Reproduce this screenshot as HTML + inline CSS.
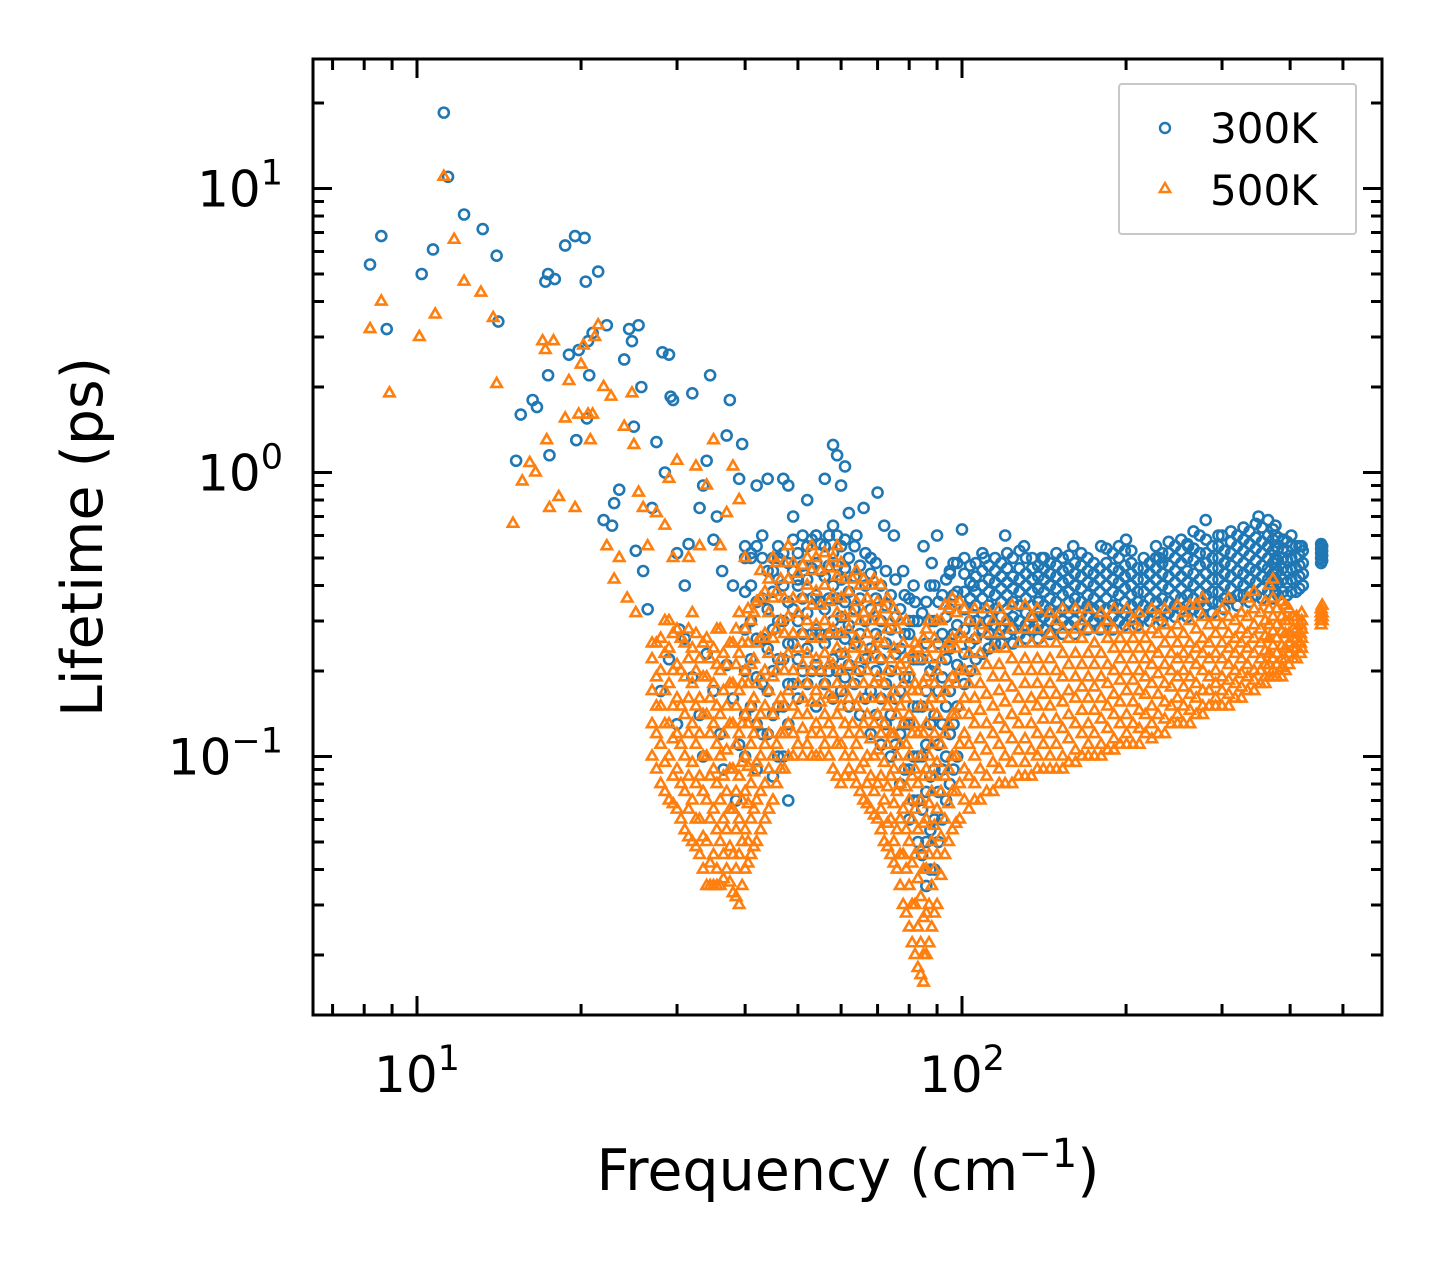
<!DOCTYPE html>
<html><head><meta charset="utf-8"><style>
html,body{margin:0;padding:0;background:#fff;}
svg{display:block;font-family:"DejaVu Sans","Liberation Sans",sans-serif;}
</style></head><body>
<svg id="chart" width="1442" height="1265" viewBox="0 0 1442 1265" xmlns="http://www.w3.org/2000/svg">
<defs><clipPath id="clip"><rect x="313" y="59" width="1069" height="956"/></clipPath></defs>
<rect x="0" y="0" width="1442" height="1265" fill="#fff"/>
<g id="marks300" clip-path="url(#clip)"></g>
<g id="marks500" clip-path="url(#clip)"></g>
<g id="ticks"></g>
<rect x="313" y="59" width="1069" height="956" fill="none" stroke="#000" stroke-width="3"/>
<g id="labels" font-size="50" fill="#000"></g>
<text x="848" y="1190" font-size="57" text-anchor="middle">Frequency (cm<tspan dy="-23" font-size="40">−1</tspan><tspan dy="23">)</tspan></text>
<text transform="translate(102,537) rotate(-90)" font-size="57" text-anchor="middle">Lifetime (ps)</text>
<g>
<rect x="1119" y="84" width="237" height="150" fill="#fff" stroke="#c8c8c8" stroke-width="2" rx="3"/>
<circle cx="1165" cy="128" r="5" fill="none" stroke="#1f77b4" stroke-width="2.4"/>
<text x="1210" y="143" font-size="42">300K</text>
<polygon points="1165,183 1170.2,192 1159.8,192" fill="none" stroke="#ff7f0e" stroke-width="2.4"/>
<text x="1210" y="205" font-size="42">500K</text>
</g>
</svg>
<script>
// ---- data (frequency cm^-1, lifetime ps) ----
const sparse300 = [[8.2,5.4],[8.6,6.8],[8.8,3.2],[10.2,5.0],[10.7,6.1],[11.2,18.5],[11.4,11],[12.2,8.1],[13.2,7.2],[14.0,5.8],[14.1,3.4],[15.2,1.1],[15.5,1.6],[16.3,1.8],[16.6,1.7],[17.2,4.7],[17.4,5.0],[17.4,2.2],[17.5,1.15],[17.9,4.8],[18.7,6.3],[19.0,2.6],[19.5,6.8],[19.6,1.3],[19.8,2.7],[20.3,6.7],[20.4,4.7],[20.6,2.9],[20.7,2.2],[21,3.1],[21.5,5.1],[20.5,1.55],[22.0,0.68],[22.3,3.3],[22.8,0.65],[23.0,0.78],[23.5,0.87],[24,2.5],[24.5,3.2],[24.8,2.9],[25,1.45],[25.2,0.53],[25.5,3.3],[25.8,2.0],[26,0.45],[26.5,0.33],[27,0.75],[27.5,1.28],[28.2,2.65],[28.5,1.0],[29,2.6],[29.2,1.85],[29.5,1.8],[30,0.52],[30.3,0.28],[31,0.4],[31.5,0.56],[32,1.9],[33,0.75],[33.5,0.9],[34,1.1],[34.5,2.2],[35,0.58],[35.5,0.7],[36.3,0.45],[37,1.35],[37.5,1.8],[38,0.4],[39,0.95],[39.5,1.26],[40,0.55],[41,0.5],[42,0.9],[43,0.6],[44,0.95],[45,0.45],[46,0.5],[47,0.95],[48,0.9],[49,0.7],[50,0.42],[52,0.8],[54,0.6],[56,0.95],[58,1.25],[59,1.15],[60,0.9],[61,1.05],[62,0.72],[64,0.6],[66,0.75],[68,0.5],[70,0.85],[72,0.65],[75,0.6],[78,0.45],[80,0.3],[82,0.35],[85,0.55],[88,0.48],[90,0.6],[95,0.45],[100,0.63],[105,0.4],[110,0.5],[120,0.6],[130,0.55],[140,0.5],[160,0.55],[180,0.55],[200,0.58],[230,0.5],[260,0.55],[280,0.68],[300,0.6],[350,0.7],[390,0.58],[420,0.55],[28,0.17],[29,0.22],[30,0.13],[31,0.26],[32,0.19],[33,0.14],[34,0.23],[35,0.17],[36,0.12],[37,0.21],[38,0.16],[39,0.11],[38.5,0.07],[36.5,0.09],[33.5,0.1],[45,0.085],[48,0.07],[47,0.1]];
const band300 = [[40,[.1,.14,.2,.28,.38,.5]],[42,[.09,.13,.19,.26,.35,.55]],[44,[.12,.17,.24,.33,.45]],[46,[.1,.15,.22,.3,.42,.55]],[48,[.13,.18,.25,.35,.48]],[50,[.16,.22,.3,.4,.52]],[52,[.18,.24,.32,.42,.55]],[54,[.15,.21,.28,.37,.48,.6]],[56,[.18,.25,.33,.43,.55]],[58,[.16,.22,.3,.4,.52,.65]],[60,[.17,.23,.31,.42,.55]],[62,[.15,.21,.29,.38,.5]],[65,[.14,.2,.27,.36,.47]],[68,[.12,.17,.24,.33,.44]],[71,[.11,.16,.22,.3,.4]],[74,[.1,.14,.2,.28,.37]],[77,[.08,.12,.17,.24,.33]],[80,[.06,.09,.13,.19,.27,.36]],[83,[.05,.07,.1,.15,.22,.3]],[86,[.035,.05,.075,.11,.17,.25,.35]],[89,[.04,.06,.09,.14,.21,.3,.4]],[92,[.06,.09,.13,.19,.27,.37]],[95,[.08,.12,.17,.24,.33,.44]],[98,[.1,.15,.21,.29,.38,.48]],[101,[.18,.23,.28,.33,.38,.44,.5]],[106,[.22,.26,.3,.34,.38,.43,.48]],[112,[.24,.27,.3,.34,.38,.42,.47]],[118,[.25,.28,.31,.35,.39,.43,.48]],[124,[.25,.28,.31,.35,.39,.43,.5]],[131,[.26,.29,.32,.36,.4,.44,.5]],[138,[.26,.29,.32,.35,.39,.43,.47]],[145,[.27,.3,.33,.36,.4,.44,.48]],[153,[.27,.3,.33,.37,.41,.45,.5]],[161,[.27,.3,.33,.36,.4,.44,.48]],[170,[.28,.31,.34,.37,.41,.45,.5]],[179,[.28,.31,.34,.38,.42,.46]],[189,[.28,.31,.34,.38,.42,.46,.52]],[199,[.29,.32,.35,.39,.43,.47,.53]],[210,[.29,.32,.35,.38,.42,.46]],[221,[.3,.33,.36,.4,.44,.48]],[233,[.3,.33,.36,.4,.44,.48,.52]],[246,[.31,.34,.37,.41,.45,.5,.55]],[259,[.31,.34,.37,.41,.45,.5,.56]],[273,[.32,.35,.38,.42,.47,.52,.6]],[288,[.32,.35,.38,.42,.46,.5,.55]],[303,[.33,.36,.4,.44,.48,.53]],[320,[.34,.37,.41,.45,.5,.55,.6]],[337,[.35,.38,.42,.46,.51,.56,.62]],[355,[.36,.39,.43,.47,.52,.57,.64]],[372,[.36,.4,.44,.48,.53,.58,.63]],[380,[.37,.41,.45,.49,.54,.59]],[395,[.37,.41,.45,.49,.53,.57]],[410,[.38,.42,.46,.5,.55]],[422,[.4,.44,.48,.53]],[456,[.48,.5,.52,.54,.56]],[458,[.49,.51,.53,.55]]];
const band300Extra = [[41,[.15,.22,.3,.4,.52]],[43,[.12,.18,.26,.36,.5]],[45,[.14,.2,.28,.38,.5]],[47,[.15,.22,.3,.4,.52]],[49,[.18,.25,.33,.45,.58]],[51,[.2,.27,.36,.47,.6]],[53,[.2,.27,.36,.46,.58]],[55,[.2,.27,.35,.45,.56]],[57,[.2,.27,.36,.47,.6]],[59,[.2,.27,.36,.47,.6]],[61,[.19,.26,.35,.46,.58]],[63.5,[.18,.25,.33,.43,.55]],[66.5,[.16,.22,.3,.4,.52]],[69.5,[.14,.2,.27,.36,.48]],[72.5,[.13,.18,.25,.34,.45]],[75.5,[.11,.16,.23,.31,.42]],[78.5,[.09,.13,.19,.27,.37]],[81.5,[.07,.1,.15,.22,.3,.4]],[84.5,[.045,.065,.1,.15,.22,.32]],[87.5,[.04,.055,.085,.13,.2,.3,.4]],[90.5,[.05,.075,.11,.17,.25,.35]],[93.5,[.07,.1,.15,.22,.31,.42]],[96.5,[.09,.13,.19,.27,.37,.48]],[103.5,[.2,.25,.3,.36,.41,.47]],[109,[.23,.28,.32,.36,.4,.45,.52]],[115,[.25,.29,.33,.37,.41,.45,.5]],[121,[.27,.3,.33,.37,.41,.46,.52]],[127.5,[.27,.3,.34,.38,.42,.46,.53]],[134.5,[.28,.31,.34,.38,.42,.46,.5]],[141.5,[.28,.31,.34,.38,.42,.46,.5]],[149,[.29,.32,.35,.39,.43,.47,.52]],[157,[.29,.32,.35,.38,.42,.46,.51]],[165.5,[.29,.32,.35,.39,.43,.47,.52]],[174.5,[.3,.33,.36,.4,.44,.48]],[184,[.3,.33,.36,.4,.44,.48,.54]],[194,[.3,.33,.37,.41,.45,.5,.55]],[204.5,[.31,.34,.37,.4,.44,.48,.53]],[215.5,[.31,.34,.38,.42,.46,.5]],[227,[.32,.35,.38,.42,.46,.5,.55]],[239.5,[.32,.35,.39,.43,.47,.52,.57]],[252.5,[.33,.36,.39,.43,.48,.53,.58]],[266,[.33,.36,.4,.44,.49,.54,.62]],[280.5,[.34,.37,.4,.44,.48,.52,.58]],[295.5,[.35,.38,.42,.46,.5,.55,.6]],[311.5,[.36,.39,.43,.47,.52,.57,.62]],[328.5,[.37,.4,.44,.48,.53,.58,.64]],[346,[.37,.41,.45,.49,.54,.59,.66]],[364.5,[.38,.42,.46,.5,.55,.6,.68]],[376,[.38,.42,.46,.5,.55,.6,.65]],[388,[.38,.42,.46,.5,.54,.58]],[402,[.38,.42,.46,.5,.55,.6]],[416,[.39,.43,.47,.51,.55]]];
const sparse500 = [[8.2,3.2],[8.6,4.0],[8.9,1.9],[10.1,3.0],[10.8,3.6],[11.2,11],[11.7,6.6],[12.2,4.7],[13.1,4.3],[13.8,3.5],[14,2.05],[15.0,0.66],[15.6,0.93],[16.1,1.08],[16.5,1.0],[17.0,2.9],[17.2,2.7],[17.3,1.3],[17.5,0.75],[17.8,2.9],[18.2,0.82],[18.7,1.55],[19,2.1],[19.5,0.75],[19.8,1.6],[20,2.4],[20.2,2.8],[20.6,1.6],[20.8,1.3],[21,1.6],[21.2,3.0],[21.5,3.3],[22,2.0],[22.3,0.55],[22.7,1.85],[23,0.42],[23.5,0.5],[24,1.45],[24.3,0.36],[24.8,1.9],[25,1.25],[25.2,0.32],[25.5,0.85],[26,0.75],[26.5,0.55],[27,0.25],[27.5,0.72],[28.5,0.65],[29,0.95],[29.5,0.5],[30,1.1],[31.5,0.5],[32.5,1.05],[33,0.55],[34,0.9],[35,1.3],[36,0.55],[37,0.72],[38,1.05],[39,0.8],[40,0.5]];
const band500 = [[27,[.1,.13,.17,.22]],[28,[.08,.11,.15,.2,.26]],[29,[.07,.1,.13,.18,.24,.3]],[30,[.065,.09,.12,.16,.21,.28]],[31,[.055,.075,.1,.14,.19,.25]],[32,[.05,.07,.095,.13,.18,.24,.32]],[33,[.045,.06,.085,.12,.16,.22]],[34,[.035,.05,.07,.1,.14,.19,.26]],[35,[.035,.045,.065,.09,.13,.18,.24]],[36,[.035,.05,.07,.1,.14,.2,.28]],[37,[.04,.055,.075,.105,.15,.21]],[38,[.033,.045,.065,.09,.13,.18,.25]],[39,[.03,.045,.06,.085,.12,.17,.23,.32]],[40,[.04,.055,.075,.1,.14,.2,.28]],[41,[.045,.06,.08,.11,.15,.21,.3]],[42,[.05,.07,.095,.13,.18,.25,.35]],[43.5,[.06,.08,.11,.15,.2,.27,.38]],[45,[.07,.1,.14,.19,.26,.36,.5]],[46.5,[.09,.12,.16,.22,.3,.42]],[48,[.1,.13,.17,.23,.31,.42,.55]],[50,[.11,.14,.18,.24,.32,.44]],[52,[.11,.14,.18,.23,.3,.4,.5]],[54,[.1,.13,.17,.22,.29,.38,.5]],[56,[.11,.14,.18,.23,.3,.4,.52]],[58,[.09,.12,.16,.21,.28,.37,.5]],[60,[.08,.11,.15,.2,.27,.36,.48]],[62,[.09,.12,.16,.21,.28,.38]],[64,[.08,.11,.15,.2,.26,.35,.45]],[66,[.07,.095,.13,.18,.24,.32,.42]],[68,[.065,.085,.115,.16,.22,.3,.4]],[70,[.06,.08,.105,.14,.19,.26,.35]],[72,[.05,.07,.095,.13,.18,.25,.33]],[74,[.045,.06,.085,.12,.16,.22,.3]],[76,[.04,.055,.075,.1,.14,.2,.28]],[78,[.03,.045,.065,.09,.13,.18,.25]],[80,[.025,.035,.05,.07,.1,.14,.2]],[82,[.02,.03,.045,.065,.09,.13,.18,.25]],[84,[.017,.022,.032,.047,.07,.1,.15,.22]],[86,[.02,.028,.04,.06,.09,.13,.19,.28]],[88,[.025,.035,.05,.075,.11,.16,.24]],[90,[.03,.045,.065,.095,.14,.2,.3]],[93,[.045,.06,.085,.12,.17,.24,.34]],[96,[.055,.075,.1,.14,.19,.26,.36]],[99,[.06,.08,.11,.15,.2,.27,.35]],[103,[.065,.085,.11,.14,.18,.23,.3]],[108,[.07,.09,.115,.145,.18,.23,.29]],[114,[.075,.095,.12,.15,.19,.24,.3]],[120,[.08,.1,.125,.155,.19,.24,.3]],[127,[.085,.105,.13,.16,.2,.25]],[134,[.085,.105,.13,.16,.2,.25,.31]],[141,[.09,.11,.135,.165,.2,.25]],[149,[.09,.11,.135,.165,.2,.25,.3]],[157,[.095,.115,.14,.17,.21,.26]],[166,[.1,.12,.145,.175,.21,.26,.3]],[175,[.1,.12,.145,.175,.21,.25]],[185,[.105,.125,.15,.18,.21,.26,.3]],[195,[.11,.13,.155,.185,.22,.26]],[206,[.11,.13,.155,.185,.22,.26,.3]],[217,[.12,.14,.165,.19,.22,.26]],[229,[.12,.14,.165,.195,.23,.27,.31]],[242,[.13,.15,.175,.2,.23,.27]],[255,[.13,.15,.175,.2,.23,.27,.32]],[269,[.14,.16,.18,.21,.24,.28,.34]],[284,[.15,.17,.19,.22,.25,.29]],[300,[.15,.17,.19,.22,.25,.29,.33]],[317,[.16,.18,.2,.23,.26,.3]],[334,[.17,.19,.21,.24,.27,.31,.36]],[353,[.18,.2,.22,.25,.28,.32]],[366,[.19,.21,.23,.26,.29,.33,.4]],[378,[.19,.21,.23,.26,.29,.33]],[392,[.2,.22,.24,.27,.3,.34]],[405,[.22,.24,.26,.28,.31]],[418,[.23,.25,.27,.29]],[456,[.29,.3,.31,.32,.33]],[458,[.3,.31,.32,.34]]];
const band500Extra = [[27.5,[.09,.12,.15,.19,.25]],[28.5,[.075,.095,.13,.17,.23,.3]],[29.5,[.068,.085,.115,.15,.2,.27]],[30.5,[.06,.08,.11,.15,.2,.26]],[31.5,[.052,.065,.085,.12,.16,.22,.28]],[32.5,[.048,.06,.08,.11,.15,.2,.27]],[33.5,[.04,.052,.075,.1,.14,.19,.25]],[34.5,[.035,.042,.06,.085,.12,.16,.22]],[35.5,[.035,.04,.055,.08,.11,.15,.21,.28]],[36.5,[.037,.045,.06,.085,.12,.17,.23]],[37.5,[.036,.048,.065,.09,.13,.18,.25]],[38.5,[.032,.04,.055,.075,.11,.15,.21,.28]],[39.5,[.035,.05,.07,.095,.13,.18,.25]],[40.5,[.042,.05,.068,.092,.13,.18,.25,.33]],[41.5,[.048,.065,.088,.12,.16,.22,.32]],[42.7,[.055,.075,.1,.14,.19,.26,.36,.45]],[44.2,[.065,.09,.12,.17,.23,.32,.42]],[45.7,[.08,.11,.15,.2,.28,.38,.48]],[47.2,[.09,.12,.15,.2,.27,.36,.48]],[49,[.1,.12,.15,.2,.27,.36,.48]],[51,[.1,.125,.16,.21,.27,.36,.47]],[53,[.1,.12,.155,.2,.26,.34,.45,.55]],[55,[.1,.12,.155,.2,.26,.34,.45]],[57,[.1,.13,.165,.21,.27,.35,.46]],[59,[.085,.11,.14,.18,.24,.32,.43,.55]],[61,[.085,.1,.13,.17,.23,.31,.42]],[63,[.085,.1,.13,.18,.24,.32,.42]],[65,[.075,.09,.12,.16,.22,.3,.4]],[67,[.068,.08,.1,.14,.2,.27,.36]],[69,[.062,.075,.1,.13,.18,.24,.32,.42]],[71,[.055,.065,.085,.12,.16,.22,.3,.4]],[73,[.048,.058,.078,.11,.15,.2,.28,.36]],[75,[.042,.05,.068,.09,.12,.17,.24,.33]],[77,[.035,.045,.06,.08,.11,.15,.21,.3]],[79,[.028,.04,.055,.078,.11,.16,.22,.3]],[81,[.022,.03,.042,.06,.085,.12,.17,.23]],[83,[.018,.025,.037,.055,.08,.12,.17,.24]],[85,[.016,.02,.027,.04,.058,.085,.12,.18,.26]],[87,[.022,.03,.045,.068,.1,.15,.22,.3]],[89,[.028,.04,.057,.085,.12,.18,.26]],[91.5,[.038,.052,.075,.11,.16,.22,.3]],[94.5,[.05,.068,.09,.13,.18,.25,.33]],[97.5,[.058,.075,.1,.14,.18,.24,.32]],[101,[.07,.09,.12,.16,.2,.26,.33]],[105.5,[.07,.08,.1,.13,.16,.2,.26,.33]],[111,[.075,.085,.105,.13,.165,.21,.27,.33]],[117,[.08,.09,.11,.135,.17,.21,.27,.33]],[123.5,[.08,.095,.115,.14,.175,.22,.28,.34]],[130.5,[.085,.095,.115,.145,.18,.22,.28,.34]],[137.5,[.09,.1,.12,.15,.18,.22,.28,.33]],[145,[.09,.1,.12,.15,.18,.22,.27,.32]],[153,[.09,.1,.125,.155,.19,.23,.28,.33]],[161.5,[.095,.105,.13,.16,.19,.23,.28,.33]],[170.5,[.1,.11,.13,.16,.19,.23,.28,.33]],[180,[.1,.11,.135,.16,.19,.23,.28,.32]],[190,[.105,.115,.14,.165,.2,.24,.28,.33]],[200.5,[.11,.12,.14,.17,.2,.24,.28,.33]],[211.5,[.11,.125,.145,.17,.2,.24,.28,.32]],[223,[.115,.13,.15,.18,.21,.24,.28,.33]],[235.5,[.12,.135,.155,.18,.21,.25,.29,.33]],[248.5,[.13,.14,.16,.19,.22,.25,.29,.34]],[262,[.13,.145,.165,.19,.22,.25,.3,.34]],[276.5,[.14,.15,.17,.2,.23,.26,.31,.36]],[292,[.15,.16,.18,.2,.23,.27,.31]],[308.5,[.15,.165,.185,.21,.24,.27,.31,.36]],[325.5,[.16,.175,.195,.22,.25,.28,.32]],[343.5,[.17,.185,.2,.23,.26,.29,.33,.38]],[360,[.18,.19,.21,.235,.265,.3,.35]],[372,[.19,.2,.22,.245,.275,.31,.36,.42]],[386,[.19,.205,.22,.245,.275,.31,.35]],[398,[.21,.23,.25,.27,.3,.33]],[411,[.22,.24,.26,.28,.31]],[420,[.24,.26,.28,.3,.32]]];
const xMajorTicks = [10,100];
const xMinorTicks = [7,8,9,20,30,40,50,60,70,80,90,200,300,400,500,600,700,800,900];
const yMajorTicks = [0.1,1,10];
const yMinorTicks = [0.02,0.03,0.04,0.05,0.06,0.07,0.08,0.09,0.2,0.3,0.4,0.5,0.6,0.7,0.8,0.9,2,3,4,5,6,7,8,9,20];
const xTickExp = ["1","2"];
const yTickExp = ["−1","0","1"];

const NS = "http://www.w3.org/2000/svg";
const X = f => 417 + 545 * (Math.log10(f) - 1);
const Y = v => 472.5 - 284 * Math.log10(v);

function flatten(sparse, bands){
  const out = sparse.slice();
  bands.forEach(band => band.forEach(c => c[1].forEach(v => out.push([c[0], v]))));
  return out;
}
const g3 = document.getElementById('marks300');
flatten(sparse300, [band300, band300Extra]).forEach(p => {
  const c = document.createElementNS(NS,'circle');
  c.setAttribute('cx', X(p[0])); c.setAttribute('cy', Y(p[1])); c.setAttribute('r', 5);
  c.setAttribute('fill','none'); c.setAttribute('stroke','#1f77b4'); c.setAttribute('stroke-width','2.6');
  
  
  g3.appendChild(c);
});
const g5 = document.getElementById('marks500');
flatten(sparse500, [band500, band500Extra]).forEach(p => {
  const x = X(p[0]), y = Y(p[1]);
  const t = document.createElementNS(NS,'polygon');
  t.setAttribute('points', `${x},${y-6} ${x+5.2},${y+3} ${x-5.2},${y+3}`);
  t.setAttribute('fill','none'); t.setAttribute('stroke','#ff7f0e'); t.setAttribute('stroke-width','2.6');
  
  
  g5.appendChild(t);
});

const gt = document.getElementById('ticks');
function line(x1,y1,x2,y2,name){
  const l = document.createElementNS(NS,'line');
  l.setAttribute('x1',x1);l.setAttribute('y1',y1);l.setAttribute('x2',x2);l.setAttribute('y2',y2);
  l.setAttribute('stroke','#000');l.setAttribute('stroke-width','3');
  
  
  gt.appendChild(l);
}
xMajorTicks.forEach(f => { const x = X(f); line(x,1015,x,996,'x-major-tick'); line(x,59,x,78,'x-major-tick-top'); });
xMinorTicks.forEach(f => { const x = X(f); if (x>313 && x<1382){ line(x,1015,x,1004,'x-minor-tick'); line(x,59,x,70,'x-minor-tick-top'); }});
yMajorTicks.forEach(v => { const y = Y(v); line(313,y,332,y,'y-major-tick'); line(1382,y,1363,y,'y-major-tick-right'); });
yMinorTicks.forEach(v => { const y = Y(v); if (y>59 && y<1015){ line(313,y,324,y,'y-minor-tick'); line(1382,y,1371,y,'y-minor-tick-right'); }});

const gl = document.getElementById('labels');
function label(x,y,exp,anchor,name){
  const t = document.createElementNS(NS,'text');
  t.setAttribute('x',x); t.setAttribute('y',y); t.setAttribute('text-anchor',anchor);
  t.innerHTML = `10<tspan dy="-22" font-size="35">${exp}</tspan>`;
  
  
  gl.appendChild(t);
}
xMajorTicks.forEach((f,i) => label(X(f), 1092, xTickExp[i], 'middle', 'x-tick-label'));
yMajorTicks.forEach((v,i) => label(283, Y(v)+18, yTickExp[i], 'end', 'y-tick-label'));
</script>
</body></html>
